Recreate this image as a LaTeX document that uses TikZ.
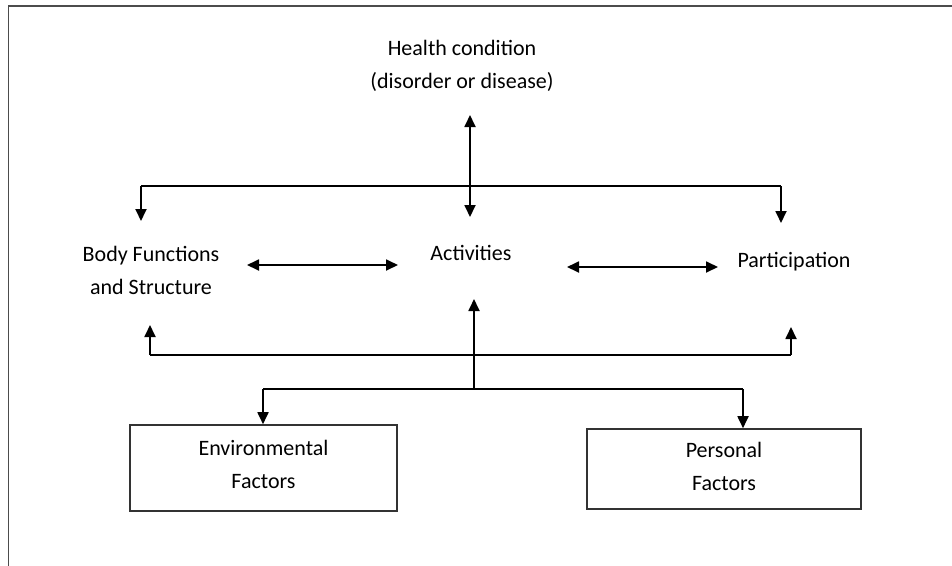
\documentclass[tikz,border=0pt]{standalone}
\usepackage{fontspec}
\setmainfont{Carlito}
\usetikzlibrary{arrows.meta}
\begin{document}
\begin{tikzpicture}[x=1pt,y=-1pt,
  lbl/.style={inner sep=0pt, align=center, font=\fontsize{22}{33}\selectfont},
  factorbox/.style={draw=black!80, line width=1.6pt, inner sep=0pt, align=center, font=\fontsize{22}{33}\selectfont},
  conn/.style={line width=1.8pt, black},
  tip/.style={-{Triangle[length=12pt,width=11pt]}},
  dbl/.style={{Triangle[length=12pt,width=11pt]}-{Triangle[length=12pt,width=11pt]}}
]
\clip (0,0) rectangle (952,565);
\fill[white] (0,0) rectangle (952,565);
\draw[line width=1.6pt, black!70] (8.5,6) rectangle (970,590);

% nodes
\node[lbl] (hc) at (462,66) {Health condition\\(disorder or disease)};
\node[lbl] (bf) at (151,270) {Body Functions\\and Structure};
\node[lbl, anchor=base] (act) at (471,260) {Activities};
\node[lbl, anchor=base] (par) at (794,267) {Participation};
\node[factorbox, minimum width=267pt, minimum height=86pt] (env) at (263.5,468) {Environmental\\Factors\rule[-8pt]{0pt}{8pt}};
\node[factorbox, minimum width=274pt, minimum height=80pt] (pers) at (724,469) {Personal\\Factors\rule[-5pt]{0pt}{5pt}};

% free ends of connectors
\coordinate (hcA) at (470,115);
\coordinate (actA) at (470,217);
\coordinate (tbL) at (141,186);
\coordinate (tbR) at (781,186);
\coordinate (bfA) at (141,221);
\coordinate (parA) at (781,223);
\coordinate (bfR) at (247,265);
\coordinate (actL) at (398,265);
\coordinate (actR) at (567,267);
\coordinate (parL) at (718,267);
\coordinate (fbL) at (150,355);
\coordinate (fbR) at (791,355);
\coordinate (bfB) at (150,325);
\coordinate (parB) at (791,327);
\coordinate (actB) at (474,299);
\coordinate (lbM) at (474,389);
\coordinate (lbL) at (263,389);
\coordinate (lbR) at (743,389);

% health condition <-> activities
\draw[conn, dbl] (hcA) -- (actA);
% top distribution bar
\draw[conn] (tbL) -- (tbR);
\draw[conn, tip] (tbL) -- (bfA);
\draw[conn, tip] (tbR) -- (parA);
% horizontal interactions
\draw[conn, dbl] (bfR) -- (actL);
\draw[conn, dbl] (actR) -- (parL);
% feedback bar
\draw[conn] (fbL) -- (fbR);
\draw[conn, tip] (fbL) -- (bfB);
\draw[conn, tip] (fbR) -- (parB);
% contextual factors
\draw[conn, tip] (lbM) -- (actB);
\draw[conn] (lbL) -- (lbR);
\draw[conn, tip] (lbL) -- (lbL |- env.north);
\draw[conn, tip] (lbR) -- (lbR |- pers.north);
\end{tikzpicture}
\end{document}
